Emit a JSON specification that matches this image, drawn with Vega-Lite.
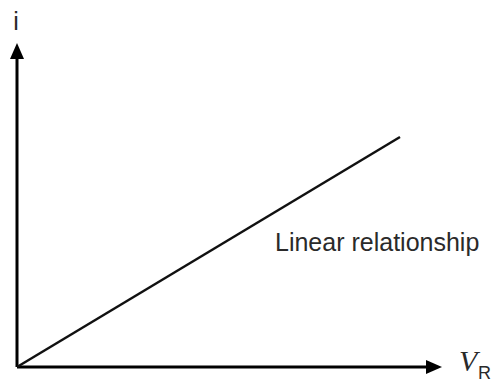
{
  "$schema": "https://vega.github.io/schema/vega-lite/v6.json",
  "width": 497,
  "height": 383,
  "padding": 0,
  "autosize": {"type": "none"},
  "background": "white",
  "config": {"view": {"stroke": null}},
  "datasets": {
    "axes": [
      {"x": 0, "y": 0, "x2": 0, "y2": 318},
      {"x": 0, "y": 0, "x2": 418, "y2": 0}
    ],
    "curve": [
      {"v": 0, "i": 0},
      {"v": 383, "i": 230}
    ],
    "arrows": [
      {"x": 0, "y": 316, "dir": "up"},
      {"x": 417, "y": 0, "dir": "right"}
    ],
    "labels": [
      {"x": 258, "y": 116, "text": "Linear relationship"}
    ],
    "ylab": [{"x": -1, "y": 337, "text": "i"}],
    "vlab": [{"x": 442, "y": -4, "text": "V"}],
    "rlab": [{"x": 461, "y": -12, "text": "R"}]
  },
  "layer": [
    {
      "data": {"name": "axes"},
      "mark": {"type": "rule", "color": "#000000", "strokeWidth": 3, "strokeCap": "butt"},
      "encoding": {
        "x": {"field": "x", "type": "quantitative", "scale": {"domain": [-17, 480], "nice": false, "zero": false}, "axis": null},
        "y": {"field": "y", "type": "quantitative", "scale": {"domain": [-16, 367], "nice": false, "zero": false}, "axis": null},
        "x2": {"field": "x2"},
        "y2": {"field": "y2"}
      }
    },
    {
      "data": {"name": "curve"},
      "mark": {"type": "line", "color": "#111111", "strokeWidth": 2.5},
      "encoding": {
        "x": {"field": "v", "type": "quantitative", "scale": {"domain": [-17, 480], "nice": false, "zero": false}, "axis": null},
        "y": {"field": "i", "type": "quantitative", "scale": {"domain": [-16, 367], "nice": false, "zero": false}, "axis": null}
      }
    },
    {
      "data": {"name": "arrows"},
      "mark": {"type": "point", "filled": true, "color": "#000000", "opacity": 1, "size": 256},
      "encoding": {
        "x": {"field": "x", "type": "quantitative", "scale": {"domain": [-17, 480], "nice": false, "zero": false}, "axis": null},
        "y": {"field": "y", "type": "quantitative", "scale": {"domain": [-16, 367], "nice": false, "zero": false}, "axis": null},
        "shape": {
          "field": "dir",
          "type": "nominal",
          "scale": {"domain": ["up", "right"], "range": ["M0,-1L-0.875,1L0.875,1Z", "M1,0L-1,-0.875L-1,0.875Z"]},
          "legend": null
        }
      }
    },
    {
      "data": {"name": "labels"},
      "mark": {"type": "text", "font": "Liberation Sans", "fontSize": 25, "color": "#2a2a2a", "align": "left", "baseline": "alphabetic"},
      "encoding": {
        "x": {"field": "x", "type": "quantitative", "scale": {"domain": [-17, 480], "nice": false, "zero": false}, "axis": null},
        "y": {"field": "y", "type": "quantitative", "scale": {"domain": [-16, 367], "nice": false, "zero": false}, "axis": null},
        "text": {"field": "text"}
      }
    },
    {
      "data": {"name": "ylab"},
      "mark": {"type": "text", "font": "Liberation Sans", "fontSize": 25, "color": "#2a2a2a", "align": "center", "baseline": "alphabetic"},
      "encoding": {
        "x": {"field": "x", "type": "quantitative", "scale": {"domain": [-17, 480], "nice": false, "zero": false}, "axis": null},
        "y": {"field": "y", "type": "quantitative", "scale": {"domain": [-16, 367], "nice": false, "zero": false}, "axis": null},
        "text": {"field": "text"}
      }
    },
    {
      "data": {"name": "vlab"},
      "mark": {"type": "text", "font": "Liberation Serif", "fontStyle": "italic", "fontSize": 30, "color": "#2a2a2a", "align": "left", "baseline": "alphabetic"},
      "encoding": {
        "x": {"field": "x", "type": "quantitative", "scale": {"domain": [-17, 480], "nice": false, "zero": false}, "axis": null},
        "y": {"field": "y", "type": "quantitative", "scale": {"domain": [-16, 367], "nice": false, "zero": false}, "axis": null},
        "text": {"field": "text"}
      }
    },
    {
      "data": {"name": "rlab"},
      "mark": {"type": "text", "font": "Liberation Sans", "fontSize": 18, "color": "#2a2a2a", "align": "left", "baseline": "alphabetic"},
      "encoding": {
        "x": {"field": "x", "type": "quantitative", "scale": {"domain": [-17, 480], "nice": false, "zero": false}, "axis": null},
        "y": {"field": "y", "type": "quantitative", "scale": {"domain": [-16, 367], "nice": false, "zero": false}, "axis": null},
        "text": {"field": "text"}
      }
    }
  ]
}
